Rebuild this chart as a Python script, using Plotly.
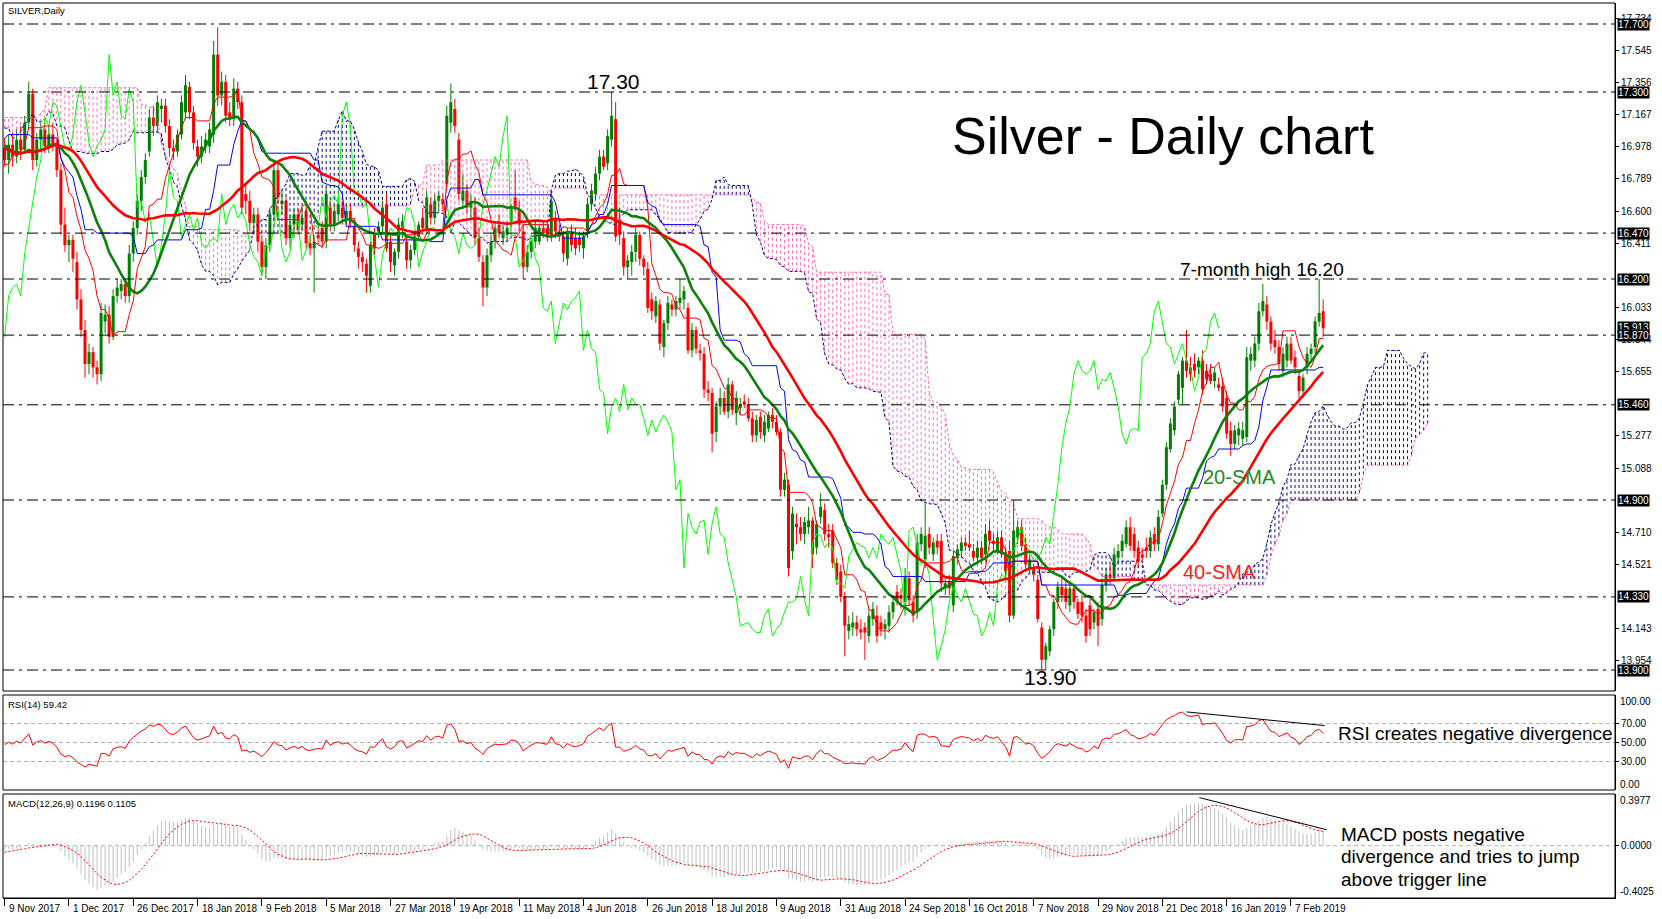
import numpy as np
import plotly.graph_objects as go

# ---------------- DATA ----------------
date_labels = ["9 Nov 2017", "1 Dec 2017", "26 Dec 2017", "18 Jan 2018", "9 Feb 2018", "5 Mar 2018",
               "27 Mar 2018", "19 Apr 2018", "11 May 2018", "4 Jun 2018", "26 Jun 2018", "18 Jul 2018",
               "9 Aug 2018", "31 Aug 2018", "24 Sep 2018", "16 Oct 2018", "7 Nov 2018", "29 Nov 2018",
               "21 Dec 2018", "16 Jan 2019", "7 Feb 2019"]
label_step = 16  # bars between date labels

# closes before the first visible bar (indicator warm-up only, not drawn)
pre_closes = [16.45, 16.40, 16.55, 16.70, 16.72, 16.75, 16.62, 16.70, 16.55, 16.25,
              16.30, 16.35, 16.70, 17.05, 17.05, 16.78, 16.85, 16.98, 17.08, 17.02,
              17.06, 17.02, 17.05, 16.90, 17.00, 17.25, 17.42, 17.35, 17.50, 17.72,
              17.78, 17.92, 17.82, 17.95, 18.05, 17.70, 17.85, 17.78, 17.82, 17.70,
              17.35, 17.40, 16.90, 16.95, 16.98, 17.10, 16.85, 16.75, 16.70, 16.66,
              16.60, 16.65, 16.85, 16.65, 16.75, 16.92, 17.03, 17.20, 17.28, 17.40,
              17.25, 17.05, 17.05, 17.10, 17.00, 17.06, 17.03, 16.95, 16.80, 16.70,
              16.85, 16.70, 17.00, 17.05, 16.80, 17.05, 17.00, 16.98]

opens = [16.97, 16.90, 16.99, 16.92, 17.02, 16.96, 17.12, 17.29, 16.90, 17.02,
         17.08, 16.98, 17.05, 16.98, 16.84, 16.52, 16.40, 16.43, 16.30, 16.08,
         15.90, 15.70, 15.77, 15.68, 15.64, 15.95, 15.99, 15.86, 16.10, 16.13,
         16.17, 16.10, 16.35, 16.50, 16.66, 16.80, 16.95, 17.15, 17.10, 17.20,
         17.22, 17.10, 16.97, 16.95, 17.05, 17.18, 17.33, 17.18, 16.98, 16.92,
         16.98, 16.98, 17.05, 17.52, 17.28, 17.36, 17.18, 17.14, 17.32, 17.24,
         16.70, 16.66, 16.53, 16.58, 16.42, 16.27, 16.40, 16.58, 16.84, 16.64,
         16.66, 16.44, 16.52, 16.58, 16.52, 16.60, 16.41, 16.38, 16.46, 16.50,
         16.42, 16.62, 16.52, 16.58, 16.62, 16.56, 16.60, 16.51, 16.38, 16.33,
         16.29, 16.16, 16.46, 16.48, 16.51, 16.64, 16.42, 16.28, 16.36, 16.50,
         16.42, 16.31, 16.37, 16.45, 16.56, 16.50, 16.64, 16.56, 16.66, 16.67,
         16.76, 17.12, 17.20, 17.02, 16.66, 16.72, 16.62, 16.62, 16.44, 16.30,
         16.15, 16.34, 16.42, 16.52, 16.44, 16.46, 16.54, 16.68, 16.61, 16.48,
         16.27, 16.36, 16.42, 16.42, 16.50, 16.50, 16.46, 16.56, 16.48, 16.45,
         16.32, 16.47, 16.44, 16.44, 16.38, 16.48, 16.64, 16.70, 16.82, 16.92,
         16.88, 17.02, 17.14, 16.55, 16.44, 16.27, 16.30, 16.36, 16.46, 16.32,
         16.26, 16.08, 15.98, 16.05, 15.80, 15.94, 16.05, 16.02, 16.06, 16.08,
         16.03, 15.78, 15.90, 15.78, 15.76, 15.55, 15.53, 15.30, 15.45, 15.50,
         15.42, 15.58, 15.41, 15.44, 15.48, 15.46, 15.38, 15.28, 15.39, 15.28,
         15.32, 15.40, 15.36, 15.30, 14.96, 14.99, 14.60, 14.76, 14.74, 14.70,
         14.74, 14.78, 14.62, 14.80, 14.84, 14.70, 14.72, 14.53, 14.48, 14.33,
         14.13, 14.15, 14.18, 14.14, 14.15, 14.10, 14.20, 14.22, 14.18, 14.14,
         14.16, 14.24, 14.36, 14.34, 14.30, 14.44, 14.30, 14.24, 14.64, 14.55,
         14.70, 14.58, 14.66, 14.66, 14.38, 14.42, 14.28, 14.56, 14.60, 14.65,
         14.64, 14.60, 14.56, 14.62, 14.58, 14.72, 14.66, 14.60, 14.68, 14.58,
         14.60, 14.22, 14.68, 14.74, 14.64, 14.50, 14.50, 14.43, 14.15, 13.96,
         14.01, 14.14, 14.30, 14.39, 14.38, 14.28, 14.38, 14.30, 14.30, 14.22,
         14.28, 14.18, 14.26, 14.20, 14.40, 14.46, 14.44, 14.56, 14.60, 14.64,
         14.74, 14.70, 14.62, 14.58, 14.62, 14.60, 14.70, 14.64, 14.82, 14.99,
         15.20, 15.31, 15.49, 15.56, 15.72, 15.68, 15.70, 15.68, 15.72, 15.66,
         15.64, 15.60, 15.58, 15.57, 15.50, 15.31, 15.23, 15.28, 15.26, 15.27,
         15.72, 15.72, 15.82, 16.01, 16.05, 15.95, 15.84, 15.80, 15.66, 15.72,
         15.82, 15.74, 15.63, 15.54, 15.68, 15.76, 15.80, 15.95, 16.01]

highs = [17.03, 17.05, 17.06, 17.08, 17.10, 17.16, 17.36, 17.32, 17.06, 17.12,
         17.12, 17.10, 17.12, 17.02, 16.88, 16.62, 16.46, 16.46, 16.36, 16.14,
         15.96, 15.82, 15.80, 15.72, 16.06, 16.05, 16.04, 16.14, 16.20, 16.20,
         16.20, 16.40, 16.54, 16.70, 16.84, 16.94, 17.20, 17.22, 17.28, 17.26,
         17.26, 17.14, 17.02, 17.08, 17.28, 17.40, 17.36, 17.22, 17.02, 17.04,
         17.06, 17.12, 17.60, 17.68, 17.42, 17.40, 17.24, 17.38, 17.36, 17.28,
         16.76, 16.72, 16.62, 16.62, 16.46, 16.44, 16.62, 16.90, 16.88, 16.72,
         16.68, 16.58, 16.62, 16.62, 16.62, 16.66, 16.46, 16.46, 16.52, 16.54,
         16.74, 16.66, 16.64, 16.68, 16.66, 16.64, 16.64, 16.56, 16.42, 16.36,
         16.32, 16.42, 16.50, 16.54, 16.66, 16.70, 16.46, 16.38, 16.56, 16.58,
         16.46, 16.40, 16.48, 16.54, 16.62, 16.72, 16.68, 16.70, 16.72, 16.70,
         17.22, 17.35, 17.26, 17.06, 16.82, 16.76, 16.70, 16.68, 16.50, 16.34,
         16.38, 16.46, 16.54, 16.58, 16.52, 16.54, 16.64, 16.84, 16.66, 16.52,
         16.40, 16.44, 16.54, 16.52, 16.54, 16.54, 16.72, 16.60, 16.52, 16.48,
         16.50, 16.52, 16.50, 16.48, 16.48, 16.68, 16.76, 16.86, 16.96, 16.96,
         17.08, 17.30, 17.24, 16.62, 16.48, 16.34, 16.40, 16.50, 16.48, 16.34,
         16.30, 16.12, 16.10, 16.08, 15.96, 16.10, 16.08, 16.10, 16.20, 16.16,
         16.06, 15.94, 15.92, 15.82, 15.80, 15.60, 15.56, 15.48, 15.56, 15.54,
         15.62, 15.60, 15.54, 15.50, 15.52, 15.50, 15.42, 15.40, 15.42, 15.40,
         15.42, 15.44, 15.40, 15.32, 15.06, 15.02, 14.86, 14.82, 14.80, 14.80,
         14.86, 14.80, 14.78, 14.94, 14.88, 14.76, 14.76, 14.56, 14.52, 14.36,
         14.22, 14.24, 14.22, 14.20, 14.18, 14.26, 14.30, 14.28, 14.22, 14.20,
         14.28, 14.34, 14.40, 14.38, 14.50, 14.48, 14.34, 14.70, 14.74, 14.88,
         14.74, 14.68, 14.70, 14.70, 14.44, 14.46, 14.60, 14.64, 14.68, 14.68,
         14.72, 14.64, 14.66, 14.66, 14.76, 14.78, 14.70, 14.72, 14.72, 14.62,
         14.66, 14.90, 14.78, 14.78, 14.68, 14.58, 14.52, 14.46, 14.18, 14.06,
         14.16, 14.32, 14.42, 14.44, 14.42, 14.42, 14.40, 14.32, 14.34, 14.26,
         14.32, 14.26, 14.30, 14.44, 14.50, 14.52, 14.62, 14.64, 14.70, 14.78,
         14.80, 14.74, 14.66, 14.62, 14.68, 14.72, 14.74, 14.84, 15.02, 15.24,
         15.38, 15.48, 15.66, 15.74, 15.90, 15.74, 15.76, 15.74, 15.78, 15.70,
         15.70, 15.68, 15.62, 15.62, 15.54, 15.36, 15.34, 15.36, 15.36, 15.80,
         15.80, 15.86, 16.06, 16.17, 16.10, 15.98, 15.90, 15.84, 15.80, 15.86,
         15.86, 15.78, 15.66, 15.64, 15.80, 15.82, 15.98, 16.20, 16.08]

lows = [16.86, 16.82, 16.86, 16.88, 16.90, 16.94, 17.08, 16.84, 16.86, 16.96,
        16.94, 16.94, 16.95, 16.80, 16.46, 16.36, 16.30, 16.24, 16.02, 15.86,
        15.62, 15.64, 15.62, 15.58, 15.60, 15.88, 15.82, 15.84, 16.06, 16.08,
        16.06, 16.06, 16.30, 16.46, 16.60, 16.76, 16.92, 17.04, 17.06, 17.12,
        17.06, 16.92, 16.90, 16.92, 17.02, 17.14, 17.14, 16.96, 16.86, 16.88,
        16.94, 16.94, 17.00, 17.22, 17.22, 17.12, 17.10, 17.10, 17.20, 16.58,
        16.58, 16.48, 16.46, 16.36, 16.22, 16.20, 16.36, 16.54, 16.64, 16.58,
        16.40, 16.38, 16.44, 16.46, 16.48, 16.38, 16.34, 16.12, 16.40, 16.38,
        16.38, 16.48, 16.48, 16.54, 16.52, 16.52, 16.50, 16.36, 16.26, 16.24,
        16.12, 16.12, 16.34, 16.44, 16.46, 16.36, 16.24, 16.22, 16.32, 16.44,
        16.26, 16.26, 16.34, 16.42, 16.46, 16.46, 16.52, 16.52, 16.60, 16.60,
        16.72, 17.06, 17.06, 16.66, 16.62, 16.58, 16.56, 16.40, 16.30, 16.04,
        16.10, 16.30, 16.38, 16.44, 16.40, 16.42, 16.50, 16.60, 16.48, 16.20,
        16.24, 16.32, 16.38, 16.40, 16.44, 16.42, 16.42, 16.44, 16.42, 16.30,
        16.28, 16.36, 16.34, 16.36, 16.32, 16.44, 16.60, 16.66, 16.78, 16.84,
        16.84, 16.98, 16.42, 16.40, 16.22, 16.20, 16.22, 16.30, 16.28, 16.22,
        16.00, 15.96, 15.94, 15.78, 15.74, 15.90, 15.98, 15.98, 16.02, 16.02,
        15.76, 15.74, 15.76, 15.72, 15.50, 15.48, 15.18, 15.24, 15.40, 15.40,
        15.38, 15.40, 15.34, 15.40, 15.44, 15.36, 15.24, 15.24, 15.26, 15.24,
        15.30, 15.32, 15.28, 14.92, 14.92, 14.45, 14.55, 14.64, 14.66, 14.64,
        14.70, 14.50, 14.58, 14.76, 14.66, 14.62, 14.50, 14.40, 14.30, 13.98,
        14.08, 14.10, 14.10, 14.08, 13.96, 14.06, 14.16, 14.06, 14.10, 14.08,
        14.12, 14.20, 14.28, 14.26, 14.26, 14.28, 14.18, 14.20, 14.60, 14.50,
        14.58, 14.54, 14.58, 14.36, 14.34, 14.34, 14.24, 14.52, 14.56, 14.60,
        14.60, 14.54, 14.52, 14.52, 14.54, 14.64, 14.60, 14.58, 14.56, 14.44,
        14.18, 14.20, 14.64, 14.60, 14.48, 14.46, 14.42, 14.18, 13.90, 13.90,
        13.98, 14.10, 14.26, 14.30, 14.26, 14.24, 14.26, 14.20, 14.18, 14.06,
        14.10, 14.14, 14.04, 14.16, 14.36, 14.40, 14.42, 14.52, 14.56, 14.62,
        14.60, 14.56, 14.50, 14.54, 14.56, 14.56, 14.60, 14.60, 14.80, 14.96,
        15.18, 15.28, 15.46, 15.46, 15.62, 15.60, 15.62, 15.64, 15.52, 15.58,
        15.58, 15.56, 15.54, 15.42, 15.26, 15.16, 15.20, 15.22, 15.22, 15.24,
        15.66, 15.68, 15.78, 15.98, 15.90, 15.78, 15.76, 15.66, 15.62, 15.68,
        15.70, 15.64, 15.50, 15.50, 15.64, 15.72, 15.76, 15.92, 15.86]

closes = [16.90, 16.99, 16.92, 17.02, 16.96, 17.12, 17.29, 16.90, 17.02, 17.08,
          16.98, 17.05, 16.98, 16.84, 16.52, 16.40, 16.43, 16.32, 16.08, 15.90,
          15.70, 15.77, 15.68, 15.64, 16.00, 15.99, 15.86, 16.10, 16.15, 16.17,
          16.10, 16.35, 16.50, 16.66, 16.80, 16.90, 17.15, 17.10, 17.24, 17.22,
          17.10, 16.97, 16.95, 17.05, 17.24, 17.34, 17.18, 17.00, 16.92, 16.98,
          17.02, 17.08, 17.52, 17.28, 17.36, 17.16, 17.14, 17.32, 17.24, 16.62,
          16.66, 16.53, 16.58, 16.42, 16.27, 16.40, 16.58, 16.84, 16.68, 16.66,
          16.44, 16.52, 16.58, 16.49, 16.56, 16.41, 16.38, 16.42, 16.44, 16.42,
          16.70, 16.52, 16.60, 16.64, 16.56, 16.60, 16.54, 16.40, 16.33, 16.30,
          16.22, 16.40, 16.38, 16.51, 16.62, 16.38, 16.30, 16.36, 16.52, 16.54,
          16.31, 16.37, 16.45, 16.52, 16.50, 16.68, 16.56, 16.66, 16.69, 16.64,
          17.16, 17.24, 17.10, 16.70, 16.72, 16.62, 16.66, 16.44, 16.33, 16.15,
          16.34, 16.42, 16.50, 16.47, 16.48, 16.50, 16.62, 16.61, 16.52, 16.27,
          16.36, 16.42, 16.50, 16.50, 16.47, 16.46, 16.66, 16.48, 16.45, 16.35,
          16.47, 16.40, 16.38, 16.40, 16.45, 16.64, 16.72, 16.82, 16.92, 16.86,
          17.04, 17.16, 16.45, 16.46, 16.27, 16.31, 16.36, 16.46, 16.32, 16.27,
          16.03, 16.01, 16.07, 15.82, 15.94, 16.06, 16.02, 16.07, 16.09, 16.13,
          15.78, 15.90, 15.79, 15.77, 15.55, 15.53, 15.29, 15.45, 15.50, 15.42,
          15.58, 15.43, 15.50, 15.46, 15.46, 15.38, 15.28, 15.37, 15.30, 15.36,
          15.40, 15.36, 15.30, 14.96, 15.02, 14.50, 14.82, 14.74, 14.70, 14.77,
          14.78, 14.58, 14.76, 14.86, 14.70, 14.68, 14.53, 14.43, 14.33, 14.16,
          14.17, 14.18, 14.14, 14.12, 14.12, 14.22, 14.26, 14.10, 14.14, 14.17,
          14.24, 14.30, 14.30, 14.32, 14.45, 14.31, 14.22, 14.65, 14.70, 14.69,
          14.62, 14.65, 14.62, 14.41, 14.41, 14.38, 14.57, 14.61, 14.65, 14.63,
          14.62, 14.56, 14.62, 14.56, 14.70, 14.66, 14.64, 14.68, 14.58, 14.48,
          14.22, 14.72, 14.74, 14.63, 14.52, 14.55, 14.46, 14.20, 13.96, 14.04,
          14.14, 14.30, 14.39, 14.34, 14.30, 14.38, 14.30, 14.23, 14.22, 14.10,
          14.14, 14.24, 14.16, 14.40, 14.46, 14.44, 14.58, 14.60, 14.66, 14.74,
          14.63, 14.60, 14.54, 14.56, 14.60, 14.68, 14.64, 14.80, 14.99, 15.21,
          15.35, 15.45, 15.64, 15.72, 15.66, 15.64, 15.66, 15.72, 15.55, 15.61,
          15.60, 15.65, 15.56, 15.45, 15.29, 15.23, 15.31, 15.32, 15.31, 15.74,
          15.76, 15.82, 16.01, 16.07, 15.95, 15.82, 15.80, 15.70, 15.76, 15.82,
          15.72, 15.68, 15.54, 15.62, 15.76, 15.79, 15.95, 16.00, 15.91]

level_prices = [17.700, 17.300, 16.470, 16.200, 15.870, 15.460, 14.900, 14.330, 13.900]
current_price = 15.913
price_ticks = [17.734, 17.545, 17.356, 17.167, 16.978, 16.789, 16.600, 16.411, 16.033,
               15.844, 15.655, 15.277, 15.088, 14.710, 14.521, 14.143, 13.954]
rsi_levels = [30, 50, 70]
rsi_ticks = [30, 50, 70]
rsi_edge_labels = {"100.00": 100, "0.00": 0}
macd_edge_labels = {"0.3977": 0.3977, "-0.4025": -0.4025}
rsi_div_line = {"x": [294, 328.4], "y": [82.2, 67.8]}
macd_div_line = {"x": [297.2, 328.9], "y": [0.370, 0.1225]}

# ---------------- GEOMETRY ----------------
W, H = 1662, 919
LM, RM, TM, BM = 3, 47, 3, 21
PW, PH = W - LM - RM, H - TM - BM


def xp(px):
    return (px - LM) / PW


def yp(py):
    return (H - BM - py) / PH


# ---------------- INDICATORS ----------------
o = np.array(opens); h = np.array(highs); l = np.array(lows); c = np.array(closes)
h = np.maximum(h, np.maximum(o, c)); l = np.minimum(l, np.minimum(o, c))
n = len(c)
idx = np.arange(n)
NP = len(pre_closes)
fc = np.concatenate([pre_closes, c]); fh = np.concatenate([pre_closes, h]); fl = np.concatenate([pre_closes, l])


def roll(a, w, f):
    return np.array([f(a[max(0, i - w + 1):i + 1]) for i in range(len(a))])


sma20 = roll(fc, 20, np.mean)[NP:]
sma40 = roll(fc, 40, np.mean)[NP:]
tenkan_f = (roll(fh, 9, np.max) + roll(fl, 9, np.min)) / 2
kijun_f = (roll(fh, 26, np.max) + roll(fl, 26, np.min)) / 2
spanA_f = (tenkan_f + kijun_f) / 2
spanB_f = (roll(fh, 52, np.max) + roll(fl, 52, np.min)) / 2
tenkan = tenkan_f[NP:]; kijun = kijun_f[NP:]
nc = n + 26
spanA = spanA_f[NP - 26:NP - 26 + nc]
spanB = spanB_f[NP - 26:NP - 26 + nc]
cx = np.arange(nc)


def rsi_calc(a, p=14):
    d = np.diff(a)
    up = np.clip(d, 0, None); dn = np.clip(-d, 0, None)
    out = np.full(len(a), np.nan)
    au = up[:p].mean(); ad = dn[:p].mean()
    out[p] = 100 - 100 / (1 + au / ad)
    for i in range(p, len(d)):
        au = (au * (p - 1) + up[i]) / p
        ad = (ad * (p - 1) + dn[i]) / p
        out[i + 1] = 100 - 100 / (1 + au / ad)
    return out


def ema(a, p):
    k = 2 / (p + 1)
    out = np.empty(len(a)); out[0] = a[0]
    for i in range(1, len(a)):
        out[i] = a[i] * k + out[i - 1] * (1 - k)
    return out


rsi = rsi_calc(fc)[NP:]
macd_f = ema(fc, 12) - ema(fc, 26)
signal = roll(macd_f, 9, np.mean)[NP:]
macd = macd_f[NP:]

# ---------------- FIGURE ----------------
fig = go.Figure()

# cloud hatching
hb_x, hb_y, hp_x, hp_y = [], [], [], []
for v in range(nc):
    a, b = spanA[v], spanB[v]
    if a >= b:
        hb_x += [v, v, None]; hb_y += [b, a, None]
    else:
        hp_x += [v, v, None]; hp_y += [a, b, None]
fig.add_trace(go.Scatter(x=hp_x, y=hp_y, mode="lines", line=dict(color="#FF69B4", width=1, dash="3px,3px"),
                         hoverinfo="skip"))
fig.add_trace(go.Scatter(x=hb_x, y=hb_y, mode="lines", line=dict(color="#00008B", width=1, dash="3px,3px"),
                         hoverinfo="skip"))
fig.add_trace(go.Scatter(x=cx, y=spanB, mode="lines", line=dict(color="#FF69B4", width=1, dash="3px,2px")))
fig.add_trace(go.Scatter(x=cx, y=spanA, mode="lines", line=dict(color="#00008B", width=1, dash="3px,2px")))

# candles
up = c >= o
for mask, col in [(up, "#008000"), (~up, "#FF0000")]:
    wx, wy = [], []
    for i in idx[mask]:
        wx += [i, i, None]; wy += [l[i], h[i], None]
    fig.add_trace(go.Scatter(x=wx, y=wy, mode="lines", line=dict(color=col, width=1), hoverinfo="skip"))
    base = np.minimum(o, c)[mask]
    hgt = np.maximum(np.abs(c - o)[mask], 0.006)
    fig.add_trace(go.Bar(x=idx[mask], y=hgt, base=base, width=0.75, marker=dict(color=col, line=dict(width=0))))

# ichimoku lines
fig.add_trace(go.Scatter(x=idx[:n - 26], y=c[26:], mode="lines", line=dict(color="#00FF00", width=1)))
fig.add_trace(go.Scatter(x=idx, y=tenkan, mode="lines", line=dict(color="#FF0000", width=1)))
fig.add_trace(go.Scatter(x=idx, y=kijun, mode="lines", line=dict(color="#0000FF", width=1)))
# SMAs
fig.add_trace(go.Scatter(x=idx, y=sma20, mode="lines", line=dict(color="#0A820A", width=2.6)))
fig.add_trace(go.Scatter(x=idx, y=sma40, mode="lines", line=dict(color="#FF0000", width=2.6)))

# RSI
fig.add_trace(go.Scatter(x=idx, y=rsi, mode="lines", line=dict(color="#FF0000", width=1), yaxis="y2"))
# MACD
mx, my = [], []
for i in idx:
    mx += [i, i, None]; my += [0, macd[i], None]
fig.add_trace(go.Scatter(x=mx, y=my, mode="lines", line=dict(color="#C0C0C0", width=1), yaxis="y3"))
fig.add_trace(go.Scatter(x=idx, y=signal, mode="lines", line=dict(color="#FF0000", width=1, dash="2px,2px"),
                         yaxis="y3"))

shapes = []
# panel borders
for (top, bot) in [(3, 691), (695, 790), (794, 898)]:
    shapes.append(dict(type="rect", xref="paper", yref="paper", x0=0, x1=1, y0=yp(bot), y1=yp(top),
                       line=dict(color="black", width=1), layer="above"))
for lv in level_prices:
    shapes.append(dict(type="line", xref="paper", yref="y", x0=0, x1=1, y0=lv, y1=lv,
                       line=dict(color="black", width=1, dash="11px,5px,3px,5px"), layer="above"))
for lv in rsi_levels:
    shapes.append(dict(type="line", xref="paper", yref="y2", x0=0, x1=1, y0=lv, y1=lv,
                       line=dict(color="#B0B0B0", width=1, dash="4px,3px"), layer="below"))
shapes.append(dict(type="line", xref="paper", yref="y3", x0=0, x1=1, y0=0, y1=0,
                   line=dict(color="#B0B0B0", width=1, dash="4px,3px"), layer="below"))
shapes.append(dict(type="line", xref="x", yref="y2", x0=rsi_div_line["x"][0], x1=rsi_div_line["x"][1],
                   y0=rsi_div_line["y"][0], y1=rsi_div_line["y"][1], line=dict(color="black", width=1)))
shapes.append(dict(type="line", xref="x", yref="y3", x0=macd_div_line["x"][0], x1=macd_div_line["x"][1],
                   y0=macd_div_line["y"][0], y1=macd_div_line["y"][1], line=dict(color="black", width=1)))

SMALL = dict(family="Liberation Sans, Arial, sans-serif", size=10, color="black")
BIG = "Liberation Sans, Arial, sans-serif"
ann = []
# x labels
for k, lab in enumerate(date_labels):
    ann.append(dict(x=k * label_step + 0.5, xref="x", y=yp(909), yref="paper", text=lab, showarrow=False,
                    xanchor="left", yanchor="middle", font=SMALL))
# black price boxes
for lv in [17.700, 17.300, 16.470, 16.200, current_price, 15.870, 15.460, 14.900, 14.330, 13.900]:
    ann.append(dict(x=xp(1617), xref="paper", y=lv, yref="y", text=f"{lv:.3f}", showarrow=False,
                    xanchor="left", yanchor="middle", bgcolor="black", borderpad=0,
                    font=dict(family=SMALL["family"], size=10, color="white")))
# edge labels of the indicator windows (drawn inside the window edges, as in the reference)
for s, py in [("100.00", 701), ("0.00", 784)]:
    ann.append(dict(x=xp(1618), xref="paper", y=yp(py), yref="paper", text=s, showarrow=False,
                    xanchor="left", yanchor="middle", font=SMALL))
for s, py in [("0.3977", 800), ("-0.4025", 891)]:
    ann.append(dict(x=xp(1618), xref="paper", y=yp(py), yref="paper", text=s, showarrow=False,
                    xanchor="left", yanchor="middle", font=SMALL))


def txt(px, py, s, size, color="black", xanchor="center"):
    ann.append(dict(x=xp(px), xref="paper", y=yp(py), yref="paper", text=s, showarrow=False,
                    xanchor=xanchor, yanchor="middle", font=dict(family=BIG, size=size, color=color)))


txt(6, 10, "SILVER,Daily", 9.5, xanchor="left")
txt(6, 704, "RSI(14) 59.42", 9.5, xanchor="left")
txt(6, 803, "MACD(12,26,9) 0.1196 0.1105", 9.5, xanchor="left")
txt(1163, 136, "Silver - Daily chart", 52)
txt(613, 82, "17.30", 21)
txt(1262, 269, "7-month high 16.20", 19)
txt(1050, 677, "13.90", 21)
txt(1239, 477, "20-SMA", 20, color="#1E8C1E")
txt(1219, 572, "40-SMA", 20, color="#FF1A1A")
txt(1336, 733, "RSI creates negative divergence", 19, xanchor="left")
txt(1339, 834, "MACD posts negative", 19, xanchor="left")
txt(1339, 856, "divergence and tries to jump", 19, xanchor="left")
txt(1339, 879, "above trigger line", 19, xanchor="left")

yax_common = dict(side="right", anchor="x", showgrid=False, zeroline=False, showline=True, linecolor="black",
                  linewidth=1, ticks="outside", ticklen=3, tickcolor="black", tickfont=SMALL, fixedrange=True)

fig.update_layout(
    width=W, height=H, margin=dict(l=LM, r=RM, t=TM, b=BM),
    paper_bgcolor="white", plot_bgcolor="white", showlegend=False, barmode="overlay",
    xaxis=dict(range=[-0.4, 400.6], anchor="y3", showgrid=False, zeroline=False, showline=True,
               linecolor="black", ticks="outside", ticklen=7, tickcolor="black",
               tickvals=[k * label_step for k in range(len(date_labels))], showticklabels=False,
               fixedrange=True),
    yaxis=dict(domain=[yp(691), yp(3)], range=[13.7765, 17.8235], tickvals=price_ticks,
               ticktext=[f"{v:.3f}" for v in price_ticks], **yax_common),
    yaxis2=dict(domain=[yp(790), yp(695)], range=[0, 100], tickvals=rsi_ticks,
                ticktext=[f"{v:.2f}" for v in rsi_ticks], **yax_common),
    yaxis3=dict(domain=[0, yp(794)], range=[-0.4025, 0.3977], tickvals=[0.0],
                ticktext=["0.0000"], **yax_common),
    shapes=shapes, annotations=ann,
)

fig.write_html("out.html", config={"displayModeBar": False},
               post_script="document.body.style.margin='0px';document.body.style.padding='0px';"
                           "document.documentElement.style.overflow='hidden';")
